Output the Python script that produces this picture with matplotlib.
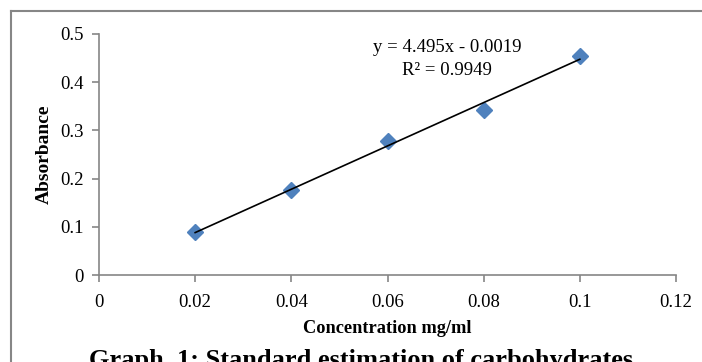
import matplotlib.pyplot as plt
from matplotlib.lines import Line2D
import numpy as np

conc = [0.02, 0.04, 0.06, 0.08, 0.10]
absorbance = [0.089, 0.176, 0.278, 0.342, 0.454]
slope = 4.495
intercept = -0.0019
r2 = 0.9949
xticks = [0, 0.02, 0.04, 0.06, 0.08, 0.1, 0.12]
yticks = [0, 0.1, 0.2, 0.3, 0.4, 0.5]

plt.rcParams['font.family'] = ['Liberation Serif', 'DejaVu Serif']
grey = '#868686'

fig = plt.figure(figsize=(7.02, 3.62), dpi=100)
ax = fig.add_axes([99 / 702, 1 - 275 / 362, (676 - 99) / 702, (275 - 34) / 362])

fit_x = np.array([conc[0], conc[-1]])
ax.plot(fit_x, slope * fit_x + intercept, color='black', lw=1.2, zorder=3)
ax.plot(conc, absorbance, linestyle='none', marker='D', markersize=8.5,
        color='#4F81BD', zorder=2)

ax.set_xlim(0, 0.12)
ax.set_ylim(0, 0.5)
ax.set_xticks(xticks)
ax.set_xticklabels(['0', '0.02', '0.04', '0.06', '0.08', '0.1', '0.12'])
ax.set_yticks(yticks)
ax.set_yticklabels(['0', '0.1', '0.2', '0.3', '0.4', '0.5'])
for s in ['top', 'right']:
    ax.spines[s].set_visible(False)
for s in ['left', 'bottom']:
    ax.spines[s].set_color(grey)
    ax.spines[s].set_linewidth(1.2)
ax.tick_params(direction='out', length=5, width=1.2, color=grey,
               labelsize=13.5, pad=6)
ax.tick_params(axis='x', pad=9)

ax.set_xlabel('Concentration mg/ml', fontsize=13.2, fontweight='bold', labelpad=6)
ax.set_ylabel('Absorbance', fontsize=14, fontweight='bold', labelpad=5)

ax.text(0.0724, 0.449, 'y = 4.495x - 0.0019\nR\u00b2 = %.4f' % r2, ha='center', va='center',
        fontsize=13.5, linespacing=1.45)

fig.text(0.515, 1 - 367 / 362, 'Graph  1: Standard estimation of carbohydrates',
         ha='center', va='baseline', fontsize=19, fontweight='bold')

# grey frame round the chart, only the left and top edges are in view
fig.add_artist(Line2D([11 / 702, 11 / 702], [-0.1, 1 - 11 / 362], transform=fig.transFigure,
                      color=grey, lw=1.5))
fig.add_artist(Line2D([11 / 702, 1.1], [1 - 11 / 362, 1 - 11 / 362], transform=fig.transFigure,
                      color=grey, lw=1.5))

fig.savefig('out.png', dpi=100)
